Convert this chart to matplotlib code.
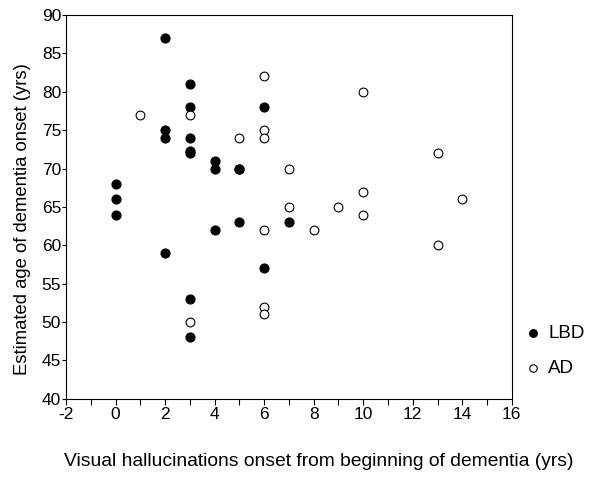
import matplotlib
matplotlib.use("Agg")
import matplotlib.pyplot as plt

plt.rcParams['font.family'] = ['Liberation Sans', 'DejaVu Sans']
plt.rcParams['axes.unicode_minus'] = False

# LBD (filled circles)
lbd_x = [0, 0, 0, 2, 2, 2, 2, 3, 3, 3, 3, 3, 3, 3, 4, 4, 4, 5, 5, 5, 6, 6, 7]
lbd_y = [68, 66, 64, 87, 75, 74, 59, 81, 78, 74, 72, 72.3, 53, 48, 71, 70, 62, 70, 70, 63, 78, 57, 63]

# AD (open circles)
ad_x = [1, 3, 3, 5, 6, 6, 6, 6, 6, 6, 7, 7, 8, 9, 10, 10, 10, 13, 13, 14]
ad_y = [77, 77, 50, 74, 82, 75, 74, 62, 52, 51, 70, 65, 62, 65, 80, 67, 64, 72, 60, 66]

fig = plt.figure(figsize=(6, 4.87), dpi=100)
ax = fig.add_axes([0.11, 0.181, 0.743, 0.788])

ax.scatter(lbd_x, lbd_y, s=40, c='black', marker='o', label='LBD', zorder=3)
ax.scatter(ad_x, ad_y, s=40, facecolors='white', edgecolors='black', linewidths=0.8,
           marker='o', label='AD', zorder=3)

ax.set_xlim(-2, 16)
ax.set_ylim(40, 90)
ax.set_xticks(range(-2, 17, 2))
ax.set_xticks(range(-1, 16, 2), minor=True)
ax.set_yticks(range(40, 91, 5))
ax.tick_params(axis='x', which='major', direction='out', length=4, labelsize=12.5, width=0.8, pad=2)
ax.tick_params(axis='y', which='major', direction='out', length=3, labelsize=12.5, width=0.8, pad=0.5)
ax.tick_params(axis='x', which='minor', direction='out', length=4, width=0.8)

ax.set_xlabel("Visual hallucinations onset from beginning of dementia (yrs)", fontsize=13.9,
              labelpad=22, x=0.567)
ax.set_ylabel("Estimated age of dementia onset (yrs)", fontsize=13.3, labelpad=8, y=0.469)

ax.legend(loc='center left', bbox_to_anchor=(1.0, 0.124), frameon=False, fontsize=13.5,
          handletextpad=0.2, labelspacing=0.96, markerscale=0.85, handlelength=1.2,
          borderaxespad=0.15)

fig.savefig("out.png", dpi=100)
